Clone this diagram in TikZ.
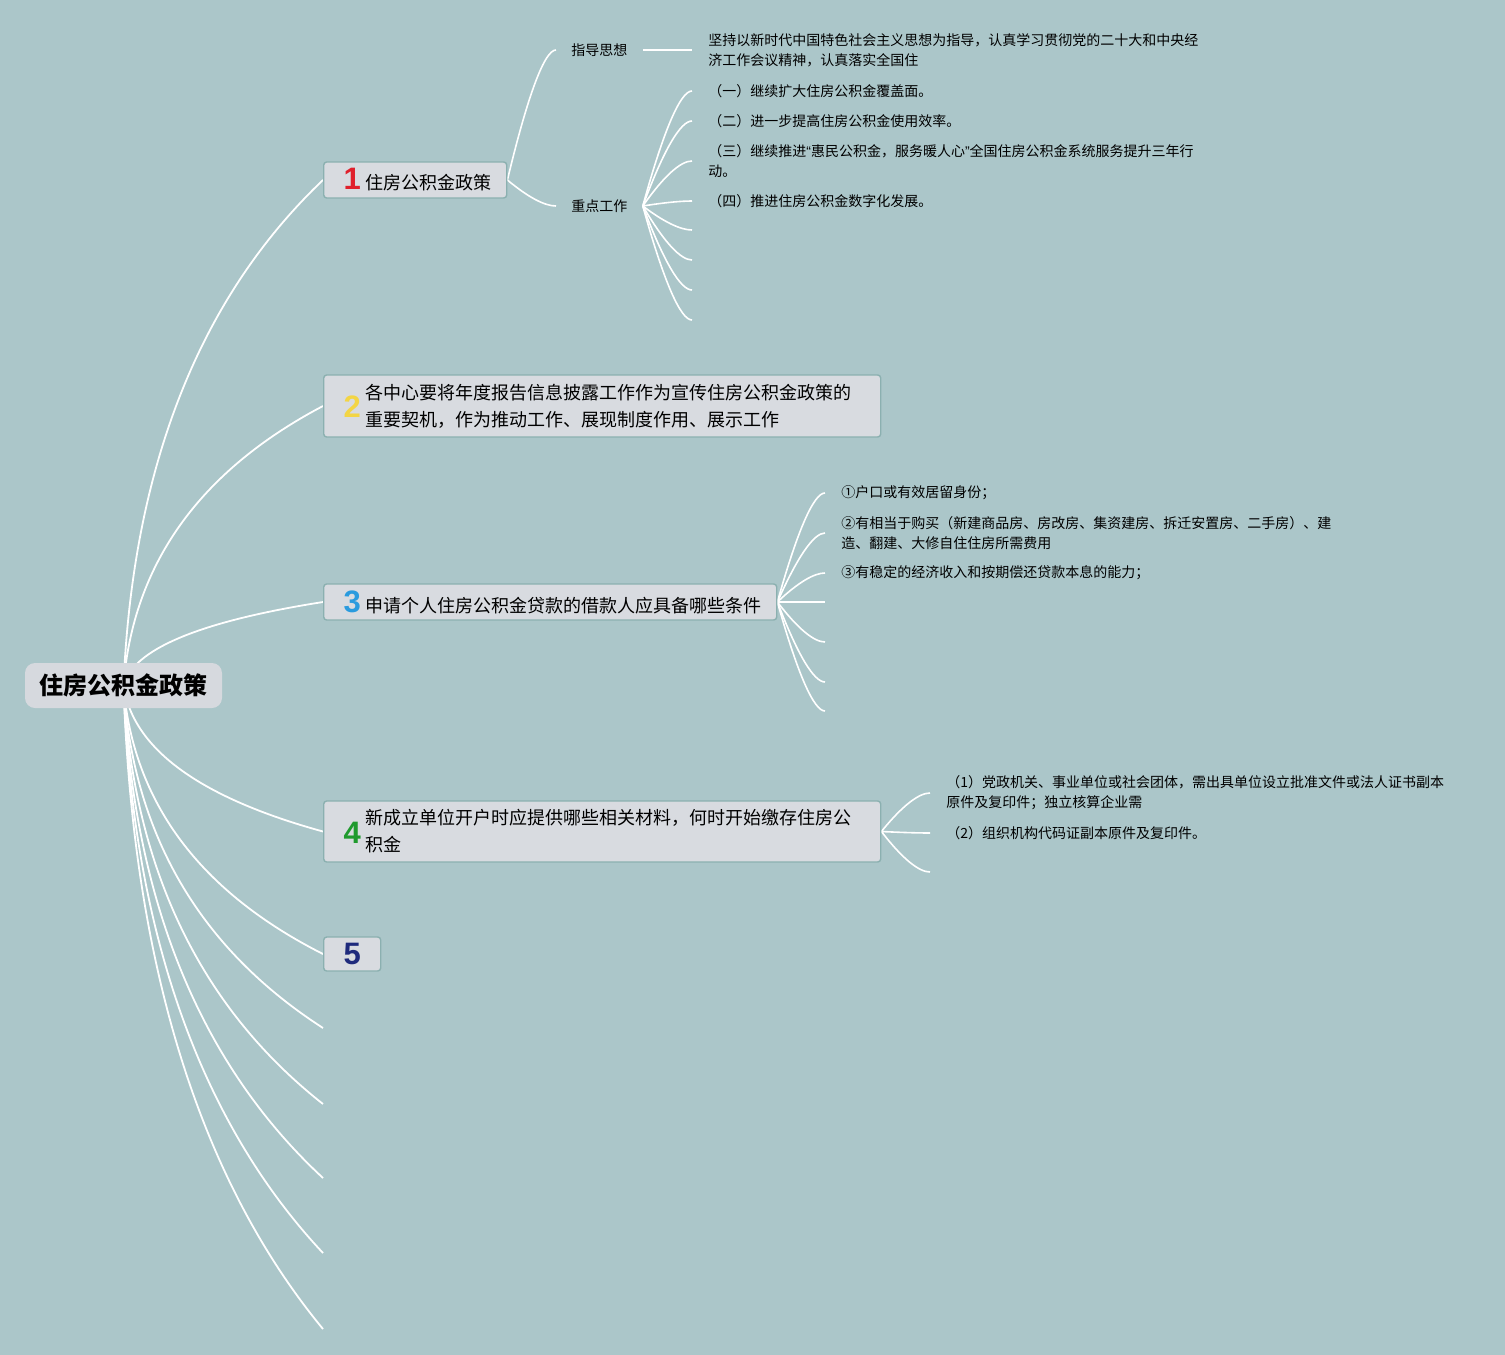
\documentclass[tikz,border=0pt]{standalone}
\usepackage{fontspec}
\setmainfont{Noto Sans CJK SC}
\newfontfamily\numfont{Liberation Sans}
\usepackage{tikz}
\usetikzlibrary{calc, backgrounds}

\definecolor{bgc}{HTML}{ABC6C9}
\definecolor{boxc}{HTML}{D8DBE0}
\definecolor{rootc}{HTML}{D6D9DE}
\definecolor{edgec}{HTML}{8BB0B0}
\definecolor{numa}{HTML}{E0202C}
\definecolor{numb}{HTML}{F3D545}
\definecolor{numc}{HTML}{2A9BDE}
\definecolor{numd}{HTML}{1F9A2E}
\definecolor{nume}{HTML}{1E2A7C}

% coloured branch number
\newcommand{\bnum}[2]{\hspace*{2.5pt}\makebox[11pt][l]{\color{#1}\numfont\bfseries\fontsize{15.5}{15.5}\selectfont #2}}

\begin{document}
\begin{tikzpicture}[
  x=0.5pt, y=-0.5pt,
  root/.style={fill=rootc, rounded corners=5pt, inner xsep=7.25pt,
    minimum height=22.5pt, font=\bfseries\fontsize{12}{14}\selectfont},
  branch/.style={draw=edgec, line width=0.7pt, fill=boxc, rounded corners=1.5pt,
    anchor=west, inner xsep=7.5pt, inner ysep=3pt, minimum height=18pt,
    font=\fontsize{9}{13.5}\selectfont},
  topic/.style={anchor=west, inner xsep=7.5pt, font=\fontsize{7}{10}\selectfont},
  leaf/.style={anchor=west, inner xsep=8pt, inner ysep=1pt, align=left,
    font=\fontsize{7}{10}\selectfont},
  limb/.style={draw=white, line width=0.9pt,
    to path={let \p1=(\tikztostart), \p2=(\tikztotarget) in
      .. controls ({\x1+4.65pt},{\y1+0.433*(\y2-\y1)})
      and ({\x2-0.62*(\x2-\x1)},{\y2-0.233*(\y2-\y1)}) .. (\tikztotarget)}},
  twig/.style={draw=white, line width=0.8pt,
    to path={let \p1=(\tikztostart), \p2=(\tikztotarget) in
      .. controls ({\x1+0.43*(\x2-\x1)},{\y1+0.67*(\y2-\y1)})
      and ({\x1+0.77*(\x2-\x1)},\y2) .. (\tikztotarget)}},
]
  \useasboundingbox (0,0) rectangle (1505,1355);

  \node[root] (root) at (123.5,685.5) {住房公积金政策};

  \node[branch] (b1) at (323,180) {\bnum{numa}{1}住房公积金政策};
  \node[branch, minimum height=31pt] (b2) at (323,406)
    {\raisebox{-3.5pt}{\bnum{numb}{2}}\parbox[c]{250pt}{各中心要将年度报告信息披露工作作为宣传住房公积金政策的\\重要契机，作为推动工作、展现制度作用、展示工作}};
  \node[branch] (b3) at (323,602) {\bnum{numc}{3}申请个人住房公积金贷款的借款人应具备哪些条件};
  \node[branch, minimum height=30.5pt] (b4) at (323,831.5)
    {\raisebox{-3.5pt}{\bnum{numd}{4}}\parbox[c]{250pt}{新成立单位开户时应提供哪些相关材料，何时开始缴存住房公\\积金}};
  \node[branch, minimum height=17pt] (b5) at (323,954) {\bnum{nume}{5}};
  \coordinate (e1) at (323,1028);
  \coordinate (e2) at (323,1104);
  \coordinate (e3) at (323,1178);
  \coordinate (e4) at (323,1253);
  \coordinate (e5) at (323,1329);

  % branch 1
  \node[topic] (zx) at (556,50) {指导思想};
  \node[topic] (zd) at (556,206) {重点工作};
  \node[leaf] (zx1) at (692,50) {坚持以新时代中国特色社会主义思想为指导，认真学习贯彻党的二十大和中央经\\济工作会议精神，认真落实全国住};
  \node[leaf] (zd1) at (692,91) {（一）继续扩大住房公积金覆盖面。};
  \node[leaf] (zd2) at (692,121) {（二）进一步提高住房公积金使用效率。};
  \node[leaf] (zd3) at (692,161) {（三）继续推进{\numfont “}惠民公积金，服务暖人心{\numfont ”}全国住房公积金系统服务提升三年行\\动。};
  \node[leaf] (zd4) at (692,201) {（四）推进住房公积金数字化发展。};
  \coordinate (zd5) at (692,230);
  \coordinate (zd6) at (692,260);
  \coordinate (zd7) at (692,290);
  \coordinate (zd8) at (692,320);

  % branch 3
  \node[leaf] (q1) at (825,493) {①户口或有效居留身份；};
  \node[leaf] (q2) at (825,533) {②有相当于购买（新建商品房、房改房、集资建房、拆迁安置房、二手房）、建\\造、翻建、大修自住住房所需费用};
  \node[leaf] (q3) at (825,573) {③有稳定的经济收入和按期偿还贷款本息的能力；};
  \coordinate (q4) at (825,602);
  \coordinate (q5) at (825,642);
  \coordinate (q6) at (825,682);
  \coordinate (q7) at (825,711);

  % branch 4
  \node[leaf] (c1) at (930,793) {（1）党政机关、事业单位或社会团体，需出具单位设立批准文件或法人证书副本\\原件及复印件；独立核算企业需};
  \node[leaf] (c2) at (930,833) {（2）组织机构代码证副本原件及复印件。};
  \coordinate (c3) at (930,872);

  \begin{scope}[on background layer]
    \fill[bgc] (0,0) rectangle (1505,1355);
    \foreach \t in {b1,b2,b3,b4,b5}
      \draw[limb] (root.center) to (\t.west);
    \foreach \t in {e1,e2,e3,e4,e5}
      \draw[limb] (root.center) to (\t);
    \draw[twig] (b1.east) to (zx.west) (b1.east) to (zd.west);
    \draw[twig] (zx.east) to (zx1.west);
    \foreach \t in {zd1,zd2,zd3,zd4}
      \draw[twig] (zd.east) to (\t.west);
    \foreach \t in {zd5,zd6,zd7,zd8}
      \draw[twig] (zd.east) to (\t);
    \foreach \t in {q1,q2,q3}
      \draw[twig] (b3.east) to (\t.west);
    \foreach \t in {q4,q5,q6,q7}
      \draw[twig] (b3.east) to (\t);
    \draw[twig] (b4.east) to (c1.west) (b4.east) to (c2.west) (b4.east) to (c3);
  \end{scope}
\end{tikzpicture}
\end{document}
